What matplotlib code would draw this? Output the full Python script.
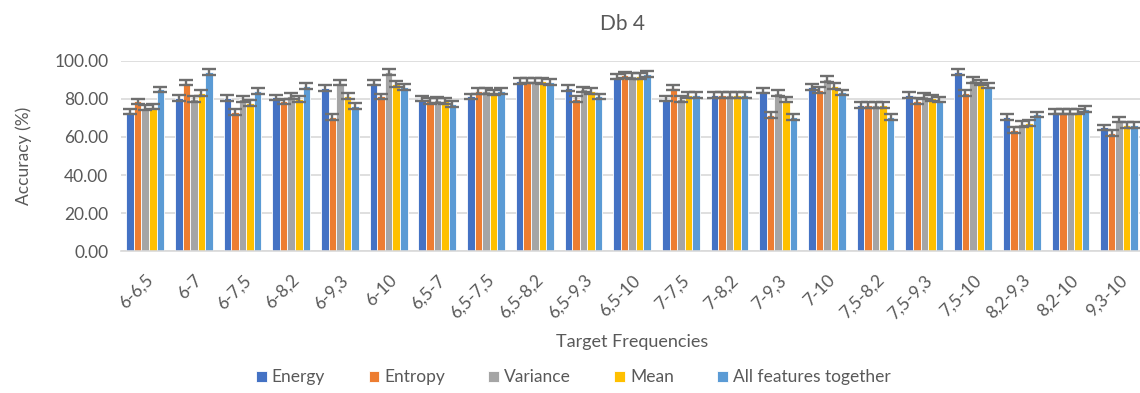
import numpy as np
import matplotlib
matplotlib.use("Agg")
from matplotlib import pyplot as plt

plt.rcParams['font.family'] = ['Lato', 'DejaVu Sans']

# data
groups = ['6-6,5', '6-7', '6-7,5', '6-8,2', '6-9,3', '6-10', '6,5-7', '6,5-7,5',
          '6,5-8,2', '6,5-9,3', '6,5-10', '7-7,5', '7-8,2', '7-9,3', '7-10',
          '7,5-8,2', '7,5-9,3', '7,5-10', '8,2-9,3', '8,2-10', '9,3-10']
series_names = ['Energy', 'Entropy', 'Variance', 'Mean', 'All features together']
energy = [73.4, 80.4, 80.4, 80.8, 85.7, 88.6, 80.2, 81.3, 89.5, 85.8, 91.8,
          80.2, 82.0, 84.4, 86.2, 76.7, 82.0, 94.2, 70.5, 73.4, 65.0]
entropy = [78.7, 88.6, 73.3, 78.7, 70.6, 81.3, 79.0, 84.0, 89.7, 79.9, 92.5,
           86.0, 82.0, 71.7, 84.6, 76.7, 78.8, 83.2, 63.8, 73.4, 62.2]
variance = [75.5, 80.0, 80.0, 81.6, 88.6, 94.2, 79.4, 84.0, 89.7, 85.0, 92.0,
            79.9, 82.0, 83.0, 90.4, 76.7, 81.6, 89.9, 66.8, 73.4, 69.2]
mean = [76.0, 83.0, 77.8, 80.0, 81.6, 88.0, 79.0, 83.4, 89.5, 84.0, 92.1,
        82.0, 82.0, 79.7, 86.9, 76.7, 80.4, 88.6, 67.5, 73.4, 66.4]
all_features = [85.0, 94.2, 84.0, 86.9, 76.4, 86.2, 77.3, 84.0, 88.8, 81.3, 93.2,
                82.0, 82.0, 70.6, 83.4, 70.5, 79.7, 87.0, 71.9, 74.8, 66.4]
error = 1.5

colors = ['#4472C4', '#ED7D31', '#A5A5A5', '#FFC000', '#5B9BD5']
text_color = '#595959'

fig = plt.figure(figsize=(11.4, 3.93), dpi=100)
ax = fig.add_axes([0.106, 0.361, 0.897, 0.484])

x = np.arange(len(groups))
width = 0.155
all_series = [energy, entropy, variance, mean, all_features]
for i, (name, vals) in enumerate(zip(series_names, all_series)):
    pos = x + (i - 2) * width
    ax.bar(pos, vals, width, color=colors[i], edgecolor='white',
           linewidth=0.6, label=name, zorder=2)
    ax.errorbar(pos, vals, yerr=error, fmt='none', ecolor='#6f6f6f',
                elinewidth=1.7, capsize=4.8, capthick=1.7, zorder=3)

ax.set_ylim(0, 100)
ax.set_xlim(-0.5, len(groups) - 0.5)
ax.set_yticks(np.arange(0, 101, 20))
ax.set_yticklabels(['%.2f' % v for v in np.arange(0, 101, 20)])
ax.set_xticks(x)
ax.set_xticklabels(groups, rotation=45, ha='right', rotation_mode='anchor')
ax.tick_params(axis='both', length=0, labelsize=12.5, colors=text_color)
ax.tick_params(axis='y', pad=9)
ax.tick_params(axis='x', pad=15)
ax.grid(axis='y', color='#D9D9D9', linewidth=1.2, zorder=0)
ax.set_axisbelow(True)
for s in ['top', 'right', 'left']:
    ax.spines[s].set_visible(False)
ax.spines['bottom'].set_color('#D9D9D9')
ax.spines['bottom'].set_linewidth(1.2)

ax.set_ylabel('Accuracy (%)', fontsize=12.5, color=text_color, labelpad=16)
ax.set_xlabel('Target Frequencies', fontsize=13, color=text_color, labelpad=9)
fig.text(0.546, 0.94, 'Db 4', ha='center', va='center', fontsize=15, color=text_color)

leg = fig.legend(loc='center', bbox_to_anchor=(0.503, 0.04), ncol=5, frameon=False,
                 fontsize=12.5, handlelength=0.6, handleheight=0.6,
                 handletextpad=0.3, columnspacing=2.5)
for t in leg.get_texts():
    t.set_color(text_color)

fig.savefig('out.png', dpi=100)
